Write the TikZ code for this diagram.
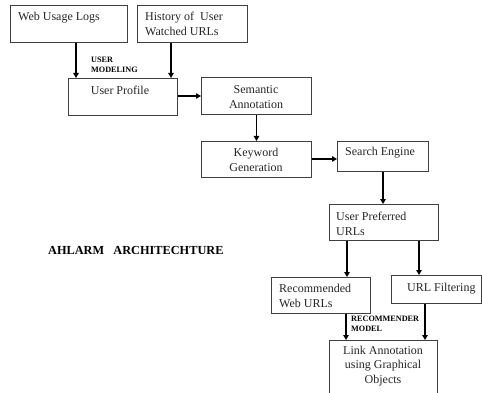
\documentclass[tikz,border=0pt]{standalone}
\usepackage{fontspec}
\setmainfont{Liberation Serif}
\usetikzlibrary{arrows.meta}
\begin{document}
\begin{tikzpicture}[x=1pt,y=-1pt,
  box/.style={draw=black!75,line width=0.9pt,fill=white,inner sep=0pt,anchor=north west},
  txt/.style={inner sep=0pt,font=\fontsize{12}{14.5}\selectfont,text=black!85},
  ltxt/.style={txt,anchor=west,align=left},
  ctxt/.style={txt,anchor=center,align=center},
  small/.style={inner sep=0pt,anchor=west,align=left,font=\fontsize{8.2}{10}\selectfont\bfseries},
  arr/.style={line width=1.9pt,-{Triangle[length=5pt,width=5.5pt]}},
  tarr/.style={line width=1.3pt,-{Triangle[length=5pt,width=5.5pt]}}]
\useasboundingbox[fill=white] (0,0) rectangle (482,393);
% boxes
\node[box,minimum width=117pt,minimum height=37pt] (b1) at (10,5) {};
\node[box,minimum width=110pt,minimum height=37pt] (b2) at (137,5) {};
\node[box,minimum width=109pt,minimum height=37pt] (b3) at (68,78) {};
\node[box,minimum width=110pt,minimum height=37pt] (b4) at (201,77) {};
\node[box,minimum width=110pt,minimum height=36pt] (b5) at (201,141) {};
\node[box,minimum width=91pt,minimum height=30pt] (b6) at (337,141) {};
\node[box,minimum width=109pt,minimum height=36pt] (b7) at (329,204) {};
\node[box,minimum width=99pt,minimum height=36pt] (b8) at (271,277) {};
\node[box,minimum width=90pt,minimum height=28pt] (b9) at (391,275) {};
\node[box,minimum width=108pt,minimum height=62pt] (b10) at (329,340) {};
% texts
\node[ltxt] (t1) at (18,18) {Web Usage Logs};
\node[ltxt] (t2) at (145,24) {History of\ \ User\\Watched URLs};
\node[ctxt] (t3) at (120,90) {User Profile};
\node[ctxt] (t4) at (256,97) {Semantic\\Annotation};
\node[ctxt] (t5) at (256,160) {Keyword\\Generation};
\node[ltxt] (t6) at (345,153) {Search Engine};
\node[ltxt] (t7) at (336,224) {User Preferred\\URLs};
\node[ltxt] (t8) at (279,296) {Recommended\\Web URLs};
\node[ltxt] (t9) at (407,289) {URL Filtering};
\node[ctxt] (t10) at (383,366) {Link Annotation\\using Graphical\\Objects};
\node[small] (um) at (91,65) {USER\\MODELING};
\node[small] (rm) at (351,324) {RECOMMENDER\\MODEL};
\node[inner sep=0pt,anchor=west,font=\fontsize{12.3}{14}\selectfont\bfseries] (title) at (48,250) {AHLARM\ \ \ ARCHITECHTURE};
% connectors
\path (b1.south west) ++(66,0) coordinate (a1);
\draw[arr] (a1) -- (a1 |- b3.north);
\path (b2.south west) ++(34,0) coordinate (a2);
\draw[arr] (a2) -- (a2 |- b3.north);
\path (b3.north east) ++(0,18) coordinate (a3);
\draw[arr] (a3) -- (a3 -| b4.west);
\draw[tarr] (b4.south) -- (b5.north);
\path (b5.north east) ++(0,18) coordinate (a5);
\draw[tarr] (a5) -- (a5 -| b6.west);
\path (b6.south west) ++(46,0) coordinate (a6);
\draw[tarr] (a6) -- (a6 |- b7.north);
\path (b7.south west) ++(18,0) coordinate (a7);
\draw[arr] (a7) -- (a7 |- b8.north);
\path (b7.south west) ++(90,0) coordinate (a8);
\draw[arr] (a8) -- (a8 |- b9.north);
\path (b8.south west) ++(75,0) coordinate (a9);
\draw[arr] (a9) -- (a9 |- b10.north);
\path (b9.south west) ++(34,0) coordinate (a10);
\draw[arr] (a10) -- (a10 |- b10.north);
\end{tikzpicture}
\end{document}
